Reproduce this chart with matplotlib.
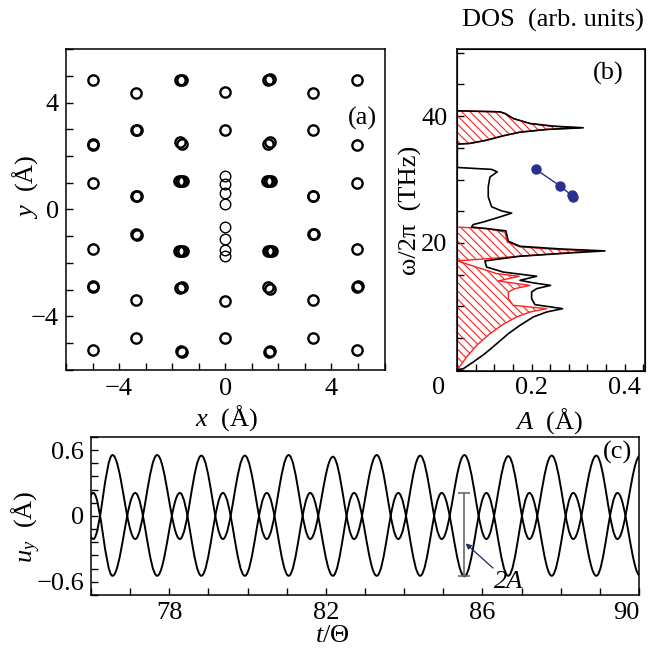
import matplotlib
matplotlib.use("Agg")
import matplotlib.pyplot as plt
from matplotlib.path import Path
from matplotlib.patches import PathPatch
from matplotlib.ticker import MultipleLocator, FixedLocator, FuncFormatter
from matplotlib.transforms import offset_copy

plt.rcParams['font.family'] = ['Liberation Serif', 'DejaVu Serif']
plt.rcParams['mathtext.fontset'] = 'custom'
plt.rcParams['mathtext.rm'] = 'Liberation Serif'
plt.rcParams['mathtext.it'] = 'Liberation Serif:italic'
plt.rcParams['font.size'] = 19
plt.rcParams['hatch.color'] = '#ff2020'
plt.rcParams['hatch.linewidth'] = 0.8

# ---- (a) atom positions (Angstrom)
atoms_x = [-5.0, -5.0, -4.98, -5.0, -5.0, -5.0, -4.97, -5.0,
           -3.35, -3.35, -3.33, -3.35, -3.31, -3.35, -3.32, -3.35, -3.35,
           -1.69, -1.64, -1.72, -1.62, -1.75, -1.66, -1.58, -1.76, -1.68, -1.60, -1.72, -1.62, -1.68, -1.64,
           0.0, 0.0, 0.0, 0.0,
           1.62, 1.67, 1.60, 1.70, 1.58, 1.66, 1.74, 1.60, 1.68, 1.76, 1.60, 1.69, 1.64, 1.68,
           3.31, 3.31, 3.29, 3.31, 3.31, 3.33, 3.31, 3.31,
           4.97, 4.97, 4.97, 4.97, 4.97, 4.99, 4.97]
atoms_y = [4.83, 2.44, 2.40, 1.00, -1.46, -2.89, -2.86, -5.26,
           4.36, 2.97, 2.99, 0.50, 0.50, -0.93, -0.95, -3.38, -4.80,
           4.85, 4.85, 2.53, 2.45, 1.05, 1.07, 1.07, -1.55, -1.55, -1.55, -2.95, -2.88, -5.30, -5.32,
           4.40, 2.99, -3.41, -4.80,
           4.85, 4.87, 2.45, 2.53, 1.07, 1.07, 1.05, -1.55, -1.55, -1.55, -2.90, -2.97, -5.32, -5.30,
           4.36, 2.97, 0.50, 0.50, -0.93, -0.93, -3.38, -4.80,
           4.83, 2.42, 1.00, -1.46, -2.88, -2.85, -5.26]
chain_x = [0.0, 0.0, 0.0, 0.0, 0.0, 0.0, 0.0, 0.0]
chain_y = [1.25, 0.95, 0.60, 0.22, -0.67, -1.12, -1.50, -1.74]

# ---- (b) DOS (arb. units) vs frequency (THz)
omega_tot = [0.0, 0.16, 1.21, 2.53, 4.1, 5.68, 7.0, 8.32, 9.1, 9.63, 10.26, 11.2, 12.26, 12.79,
             13.3, 13.7, 14.1, 14.74, 15.4, 16.2, 17.16, 17.9, 18.42, 18.74, 19.05, 19.47,
             20.26, 21.9, 22.26, 22.5, 22.9, 23.3, 24.1, 24.7, 25.05, 25.7, 27.26, 28.84,
             30.4, 31.2, 31.6, 31.9, 35.58, 35.7, 36.2, 36.9, 37.47, 37.9, 38.16, 38.42,
             38.84, 39.63, 40.42, 40.68, 40.84]
dos_tot = [0.0, 0.032, 0.085, 0.147, 0.21, 0.272, 0.334, 0.405, 0.476, 0.561, 0.414, 0.396, 0.396,
           0.423, 0.497, 0.405, 0.334, 0.423, 0.245, 0.156, 0.147, 0.334, 0.60, 0.787, 0.547,
           0.334, 0.272, 0.259, 0.156, 0.076, 0.085, 0.139, 0.227, 0.29, 0.236, 0.183, 0.165,
           0.165, 0.174, 0.213, 0.183, 0.0, 0.0, 0.067, 0.156, 0.245, 0.334, 0.476, 0.671,
           0.512, 0.387, 0.298, 0.254, 0.227, 0.0]
omega_part = [0.0, 2.0, 3.84, 5.68, 7.16, 8.32, 9.1, 9.63, 10.16, 11.2, 12.26, 12.79, 13.3,
              14.0, 14.74, 15.16, 17.16, 17.9, 18.47, 18.74, 19.0, 19.37, 20.16, 21.7, 22.26,
              22.5, 35.58, 35.7, 36.2, 36.9, 37.47, 37.9, 38.16, 38.42, 38.84, 39.63, 40.42,
              40.68, 40.84]
dos_part = [0.0, 0.05, 0.103, 0.174, 0.245, 0.316, 0.387, 0.476, 0.298, 0.272, 0.272, 0.307,
            0.387, 0.218, 0.33, 0.21, 0.0, 0.334, 0.60, 0.725, 0.512, 0.334, 0.266, 0.254,
            0.156, 0.0, 0.0, 0.067, 0.156, 0.245, 0.334, 0.476, 0.654, 0.50, 0.387, 0.298,
            0.254, 0.227, 0.0]

# amplitude A (Angstrom) of the breather vs frequency (THz)
amp_A = [0.209, 0.261, 0.286, 0.288]
amp_omega = [31.6, 29.0, 27.5, 27.3]

# ---- (c) u_y(t): times of successive extrema and values there
t_ext = [75.43, 76.06, 76.55, 77.13, 77.69, 78.27, 78.82, 79.37, 79.93, 80.49, 81.05,
         81.60, 82.18, 82.72, 83.30, 83.85, 84.41, 84.96, 85.54, 86.10, 86.66, 87.20,
         87.77, 88.32, 88.91, 89.45, 90.03]
u_upper = [0.55, -0.21, 0.555, -0.21, 0.555, -0.21, 0.55, -0.21, 0.55, -0.21, 0.555,
           -0.21, 0.54, -0.21, 0.555, -0.21, 0.55, -0.21, 0.555, -0.21, 0.545, -0.21,
           0.55, -0.21, 0.55, -0.21, 0.55]
u_lower = [-0.55, 0.21, -0.545, 0.21, -0.545, 0.21, -0.545, 0.21, -0.545, 0.21, -0.545,
           0.21, -0.545, 0.21, -0.545, 0.21, -0.545, 0.21, -0.55, 0.21, -0.545, 0.21,
           -0.545, 0.21, -0.545, 0.21, -0.545]
bar_t = 85.54
bar_lo, bar_hi = -0.55, 0.21


def wave_path(t, u, k=0.3634):
    # smooth half-waves between the read extrema (cubic Bezier, flat at the extrema)
    verts = [(t[0], u[0])]
    codes = [Path.MOVETO]
    for i in range(1, len(t)):
        dt = t[i] - t[i - 1]
        verts += [(t[i - 1] + k * dt, u[i - 1]), (t[i] - k * dt, u[i]), (t[i], u[i])]
        codes += [Path.CURVE4] * 3
    return Path(verts, codes)


def style(ax):
    ax.tick_params(which='both', direction='in', top=False, right=False,
                   length=5, width=1)
    for s in ax.spines.values():
        s.set_linewidth(1.1)


num_fmt = FuncFormatter(lambda v, p: ('%g' % v).replace('-', '\u2212'))

fig = plt.figure(figsize=(6.49, 6.56), dpi=100)

# ---------------- (a)
ax = fig.add_axes([0.1017, 0.436, 0.4908, 0.4893])
ax.plot(atoms_x, atoms_y, 'o', ms=7.4, mfc='none', mec='k', mew=1.7, ls='none')
ax.plot(chain_x, chain_y, 'o', ms=7.6, mfc='none', mec='k', mew=1.0, ls='none')
ax.set_xlim(-6, 6)
ax.set_ylim(-6, 6)
ax.xaxis.set_major_locator(MultipleLocator(4))
ax.xaxis.set_minor_locator(MultipleLocator(1))
ax.yaxis.set_major_locator(MultipleLocator(4))
ax.yaxis.set_minor_locator(MultipleLocator(1))
ax.xaxis.set_major_formatter(num_fmt)
ax.yaxis.set_major_formatter(num_fmt)
style(ax)
ax.tick_params(axis='x', pad=6)
ax.tick_params(axis='y', pad=5)
ax.set_xlabel(r'$x$  (Å)')
ax.set_ylabel(r'$y$  (Å)')
ax.xaxis.set_label_coords(0.5045, -0.15)
ax.xaxis.label.set_va('center')
ax.yaxis.set_label_coords(-0.129, 0.571)
ax.yaxis.label.set_va('center')
ax.text(0.93, 0.785, '(a)', transform=ax.transAxes, ha='center', va='center')

# ---------------- (b)
axb = fig.add_axes([0.7046, 0.4345, 0.2892, 0.4909])
axd = axb.twiny()
axd.fill_betweenx(omega_part, 0, dos_part, facecolor='none', edgecolor='#ff2020',
                  hatch='\\\\\\\\', linewidth=0)
axd.plot(dos_part, omega_part, color='#ff2020', lw=1.0)
axd.plot(dos_tot, omega_tot, color='k', lw=1.2)
axd.set_xlim(0, 1)
axd.tick_params(top=False, labeltop=False)
axd.set_xlabel('DOS  (arb. units)')
axd.xaxis.set_label_coords(0.511, 1.09)
axd.xaxis.label.set_va('center')

axb.plot(amp_A, amp_omega, 'o-', color='#2b2f8f', ms=6.5, lw=1)
axb.set_xlim(0.04, 0.444)
axb.set_ylim(-0.2, 50.6)
axb.xaxis.set_major_locator(MultipleLocator(0.2))
axb.xaxis.set_minor_locator(MultipleLocator(0.04))
axb.yaxis.set_major_locator(FixedLocator([20, 40]))
axb.yaxis.set_minor_locator(MultipleLocator(5))
style(axb)
axb.tick_params(axis='x', pad=4)
axb.tick_params(axis='y', pad=7)
axb.text(0, 0, '0', ha='center', va='top',
         transform=offset_copy(axb.get_xaxis_transform(), fig=fig, y=-4, units='points'))
axb.set_xlabel(r'$A$  (Å)')
axb.xaxis.set_label_coords(0.489, -0.155)
axb.xaxis.label.set_va('center')
axb.set_ylabel('ω/2π  (THz)')
axb.yaxis.set_label_coords(-0.25, 0.5)
axb.yaxis.label.set_va('center')
axb.text(0.804, 0.925, '(b)', transform=axb.transAxes, ha='center', va='center')

# ---------------- (c)
axc = fig.add_axes([0.1402, 0.093, 0.8444, 0.2409])
axc.add_patch(PathPatch(wave_path(t_ext, u_upper), fill=False, ec='k', lw=1.4))
axc.add_patch(PathPatch(wave_path(t_ext, u_lower), fill=False, ec='k', lw=1.4))
axc.errorbar([bar_t], [(bar_lo + bar_hi) / 2], yerr=[(bar_hi - bar_lo) / 2], fmt='none',
             ecolor='#6a6a6a', elinewidth=1.2, capsize=4, capthick=1.2)
axc.annotate('2A', xy=(bar_t + 0.03, -0.25), xytext=(86.66, -0.60), style='italic',
             ha='center', va='center',
             arrowprops=dict(arrowstyle='-|>', color='#1c2a5c', lw=0.9,
                             mutation_scale=8, shrinkA=0, shrinkB=0))
axc.set_xlim(76, 90)
axc.set_ylim(-0.72, 0.72)
axc.xaxis.set_major_locator(FixedLocator([78, 82, 86, 90]))
axc.xaxis.set_minor_locator(MultipleLocator(1))
axc.yaxis.set_major_locator(MultipleLocator(0.6))
axc.yaxis.set_minor_locator(MultipleLocator(0.12))
axc.yaxis.set_major_formatter(num_fmt)
style(axc)
axc.tick_params(axis='x', pad=5)
axc.tick_params(axis='y', pad=5)
# last label sits at the figure edge: keep it inside
axc.xaxis.get_major_ticks()[-1].label1.set_horizontalalignment('right')
axc.set_xlabel(r'$t/\Theta$')
axc.xaxis.set_label_coords(0.44, -0.26)
axc.xaxis.label.set_va('center')
axc.set_ylabel(r'$u_y$  (Å)')
axc.yaxis.set_label_coords(-0.117, 0.432)
axc.yaxis.label.set_va('center')
axc.text(0.961, 0.90, '(c)', transform=axc.transAxes, ha='center', va='center')

fig.savefig('out.png', dpi=100)
